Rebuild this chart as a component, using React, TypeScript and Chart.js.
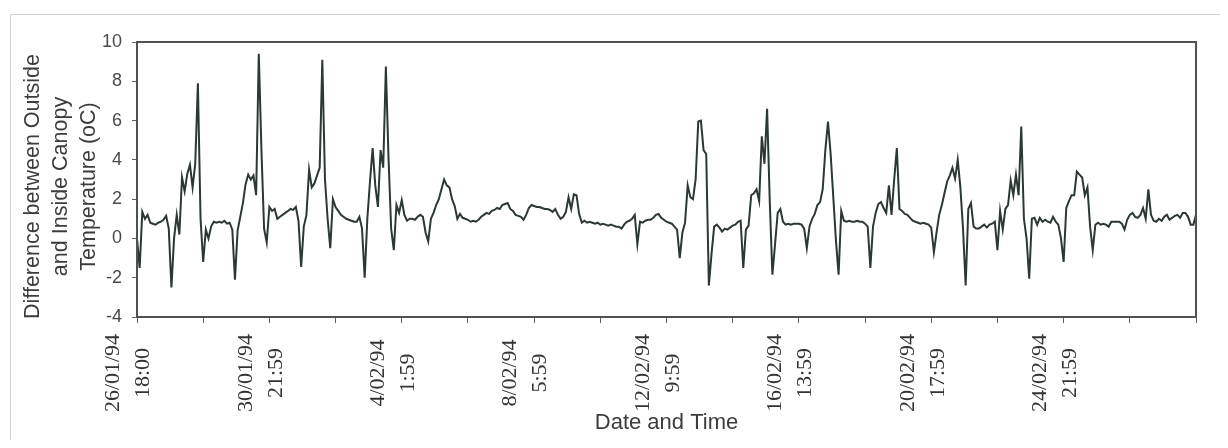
import React, { useEffect, useRef } from "react";
import { Chart, registerables } from "chart.js";

Chart.register(...registerables);

// Labelled ticks on the category (date/time) axis
const tickLabels: string[][] = [
  ["26/01/94", "18:00"],
  ["30/01/94", "21:59"],
  ["4/02/94", "1:59"],
  ["8/02/94", "5:59"],
  ["12/02/94", "9:59"],
  ["16/02/94", "13:59"],
  ["20/02/94", "17:59"],
  ["24/02/94", "21:59"],
];
const readingsPerLabel = 50;
const readingsPerTick = 25;
const readingCount = 400; // last reading index

const yMin = -4;
const yMax = 10;
const yStep = 2;

const yTitle = ["Difference between Outside", "and Inside Canopy", "Temperature (oC)"];
const xTitle = "Date and Time";

// Outside minus inside canopy temperature (oC), one reading per step
const tempDiff: number[] = [
  0.0, -1.5, 1.35, 1.0, 1.2, 0.8, 0.75, 0.7, 0.8, 0.85,
  0.95, 1.15, 0.5, -2.5, 0.0, 1.2, 0.2, 3.1, 2.4, 3.3,
  3.75, 2.6, 3.8, 7.9, 1.0, -1.2, 0.45, 0.0, 0.6, 0.85,
  0.8, 0.85, 0.8, 0.9, 0.75, 0.8, 0.45, -2.1, 0.4, 1.1,
  1.8, 2.75, 3.25, 3.0, 3.2, 2.2, 9.4, 4.5, 0.5, -0.2,
  1.6, 1.4, 1.5, 1.0, 1.1, 1.2, 1.3, 1.4, 1.5, 1.45,
  1.6, 0.9, -1.45, 0.6, 1.2, 3.5, 2.6, 2.8, 3.2, 3.6,
  9.1, 3.0, 1.0, -0.5, 2.0, 1.6, 1.4, 1.2, 1.1, 1.0,
  0.95, 0.9, 0.85, 0.85, 1.1, 0.5, -2.0, 1.0, 2.9, 4.6,
  2.7, 1.6, 4.5, 3.6, 8.75, 4.1, 0.5, -0.6, 1.7, 1.3,
  1.95, 1.2, 0.9, 1.0, 1.0, 0.95, 1.1, 1.2, 1.1, 0.3,
  -0.15, 1.0, 1.3, 1.7, 2.0, 2.5, 3.0, 2.7, 2.6, 2.0,
  1.65, 1.0, 1.25, 1.05, 1.0, 0.95, 0.85, 0.9, 0.85, 0.95,
  1.1, 1.2, 1.3, 1.25, 1.4, 1.45, 1.55, 1.5, 1.7, 1.75,
  1.8, 1.5, 1.4, 1.2, 1.15, 1.1, 0.95, 1.2, 1.55, 1.7,
  1.65, 1.6, 1.6, 1.55, 1.5, 1.5, 1.45, 1.35, 1.5, 1.2,
  1.0, 1.1, 1.35, 2.1, 1.5, 2.25, 2.2, 1.25, 0.8, 0.9,
  0.8, 0.85, 0.8, 0.75, 0.8, 0.7, 0.75, 0.7, 0.65, 0.7,
  0.65, 0.6, 0.6, 0.5, 0.7, 0.85, 0.9, 1.0, 1.2, -0.3,
  0.85, 0.8, 0.9, 0.95, 0.95, 1.05, 1.2, 1.25, 1.05, 0.95,
  0.85, 0.8, 0.75, 0.6, 0.45, -1.0, 0.3, 0.8, 2.7, 2.1,
  2.0, 3.0, 5.95, 6.0, 4.5, 4.3, -2.4, -0.8, 0.6, 0.7,
  0.55, 0.35, 0.5, 0.45, 0.55, 0.65, 0.7, 0.85, 0.9, -1.5,
  0.45, 0.65, 2.2, 2.3, 2.5, 1.9, 5.2, 3.8, 6.6, 1.9,
  -1.85, -0.3, 1.3, 1.5, 0.85, 0.7, 0.75, 0.7, 0.75, 0.75,
  0.75, 0.7, 0.5, -0.5, 0.6, 1.0, 1.25, 1.7, 1.85, 2.5,
  4.5, 5.95, 4.3, 2.1, -0.1, -1.85, 1.4, 0.9, 0.85, 0.9,
  0.85, 0.85, 0.9, 0.85, 0.85, 0.75, 0.6, -1.5, 0.6, 1.3,
  1.75, 1.85, 1.55, 1.3, 2.7, 1.2, 3.0, 4.6, 1.5, 1.4,
  1.25, 1.2, 1.05, 0.9, 0.85, 0.8, 0.75, 0.8, 0.75, 0.7,
  0.55, -0.7, 0.3, 1.2, 1.7, 2.3, 2.9, 3.2, 3.6, 3.05,
  4.0, 2.6, 0.5, -2.4, 1.5, 1.8, 0.6, 0.5, 0.5, 0.6,
  0.7, 0.55, 0.7, 0.75, 0.85, -0.6, 1.4, 0.45, 1.5, 1.7,
  2.95, 2.2, 3.25, 2.2, 5.7, 1.0, 0.0, -2.05, 1.0, 1.05,
  0.7, 1.05, 0.85, 0.95, 0.85, 0.8, 1.1, 0.85, 0.7, 0.0,
  -1.2, 1.55, 1.9, 2.2, 2.2, 3.4, 3.25, 3.1, 2.2, 2.6,
  0.6, -0.6, 0.7, 0.8, 0.7, 0.75, 0.7, 0.6, 0.85, 0.85,
  0.85, 0.85, 0.75, 0.45, 0.95, 1.2, 1.3, 1.1, 1.05, 1.2,
  1.55, 1.0, 2.5, 1.2, 0.9, 0.85, 1.0, 0.9, 1.1, 1.2,
  0.95, 1.05, 1.15, 1.2, 1.05, 1.3, 1.3, 1.1, 0.7, 0.7,
  1.2,
];

const frameAndLabels = {
  id: "frameAndLabels",
  afterDraw(chart: any) {
    const { ctx, chartArea, scales } = chart;
    const xs = scales.x;
    ctx.save();
    ctx.strokeStyle = "#4e5352";
    ctx.lineWidth = 2;
    ctx.strokeRect(
      chartArea.left,
      chartArea.top,
      chartArea.right - chartArea.left,
      chartArea.bottom - chartArea.top
    );

    // date/time tick labels, each line centred
    ctx.font = '22px "Liberation Serif", "Times New Roman", serif';
    ctx.fillStyle = "#333333";
    ctx.textAlign = "center";
    ctx.textBaseline = "middle";
    tickLabels.forEach((lines, k) => {
      const px = xs.getPixelForValue(k * readingsPerLabel);
      lines.forEach((line, j) => {
        ctx.save();
        ctx.translate(px - 23.5 + j * 30, chartArea.bottom + 56);
        ctx.rotate(-Math.PI / 2);
        ctx.fillText(line, 0, 0);
        ctx.restore();
      });
    });

    // y axis title (three centred lines)
    ctx.font = '21.5px "Liberation Sans", Arial, sans-serif';
    ctx.fillStyle = "#3c3c3c";
    const cy = (chartArea.top + chartArea.bottom) / 2 + 7;
    yTitle.forEach((line, j) => {
      ctx.save();
      ctx.translate(25.5 + j * 28, cy);
      ctx.rotate(-Math.PI / 2);
      ctx.fillText(line, 0, 0);
      ctx.restore();
    });
    ctx.restore();
  },
};

export default function App() {
  const canvasRef = useRef<HTMLCanvasElement | null>(null);

  useEffect(() => {
    if (!canvasRef.current) return;
    const chart = new Chart(canvasRef.current, {
      type: "line",
      data: {
        datasets: [
          {
            data: tempDiff.map((v, i) => ({ x: i, y: v })),
            borderColor: "#2c3832",
            borderWidth: 2,
            pointRadius: 0,
            tension: 0,
            fill: false,
          },
        ],
      },
      options: {
        animation: false,
        responsive: true,
        maintainAspectRatio: false,
        layout: { padding: { top: 34, right: 24, bottom: 0, left: 0 } },
        plugins: {
          legend: { display: false },
          tooltip: { enabled: false },
        },
        scales: {
          x: {
            type: "linear",
            min: 0,
            max: readingCount,
            grid: {
              drawOnChartArea: false,
              drawTicks: true,
              tickLength: 6,
              color: "#606060",
            },
            border: { display: false },
            ticks: { display: false, stepSize: readingsPerTick },
            title: {
              display: true,
              text: xTitle,
              color: "#3c3c3c",
              font: { family: '"Liberation Sans", Arial, sans-serif', size: 22 },
              padding: { top: 0, bottom: 4 },
            },
            afterFit: (s: any) => {
              s.height = 123;
              s.paddingLeft = 0;
              s.paddingRight = 0;
            },
          },
          y: {
            min: yMin,
            max: yMax,
            grid: {
              drawOnChartArea: false,
              drawTicks: true,
              tickLength: 5,
              color: "#606060",
            },
            border: { display: false },
            ticks: {
              stepSize: yStep,
              padding: 10,
              color: "#4a4a4a",
              font: { family: '"Liberation Sans", Arial, sans-serif', size: 18 },
            },
            title: { display: false },
            afterFit: (s: any) => {
              s.width = 129;
              s.paddingTop = 0;
              s.paddingBottom = 0;
            },
          },
        },
      },
      plugins: [frameAndLabels],
    });
    return () => chart.destroy();
  }, []);

  return (
    <div style={{ position: "relative", width: 1212, height: 432 }}>
      <div
        style={{
          position: "absolute",
          left: 2,
          top: 6,
          width: 1210,
          height: 440,
          borderTop: "1px solid #d2d2d2",
          borderLeft: "1px solid #d2d2d2",
          pointerEvents: "none",
        }}
      />
      <div style={{ position: "absolute", left: 0, top: 0, width: 1212, height: 432 }}>
        <canvas ref={canvasRef} />
      </div>
    </div>
  );
}
